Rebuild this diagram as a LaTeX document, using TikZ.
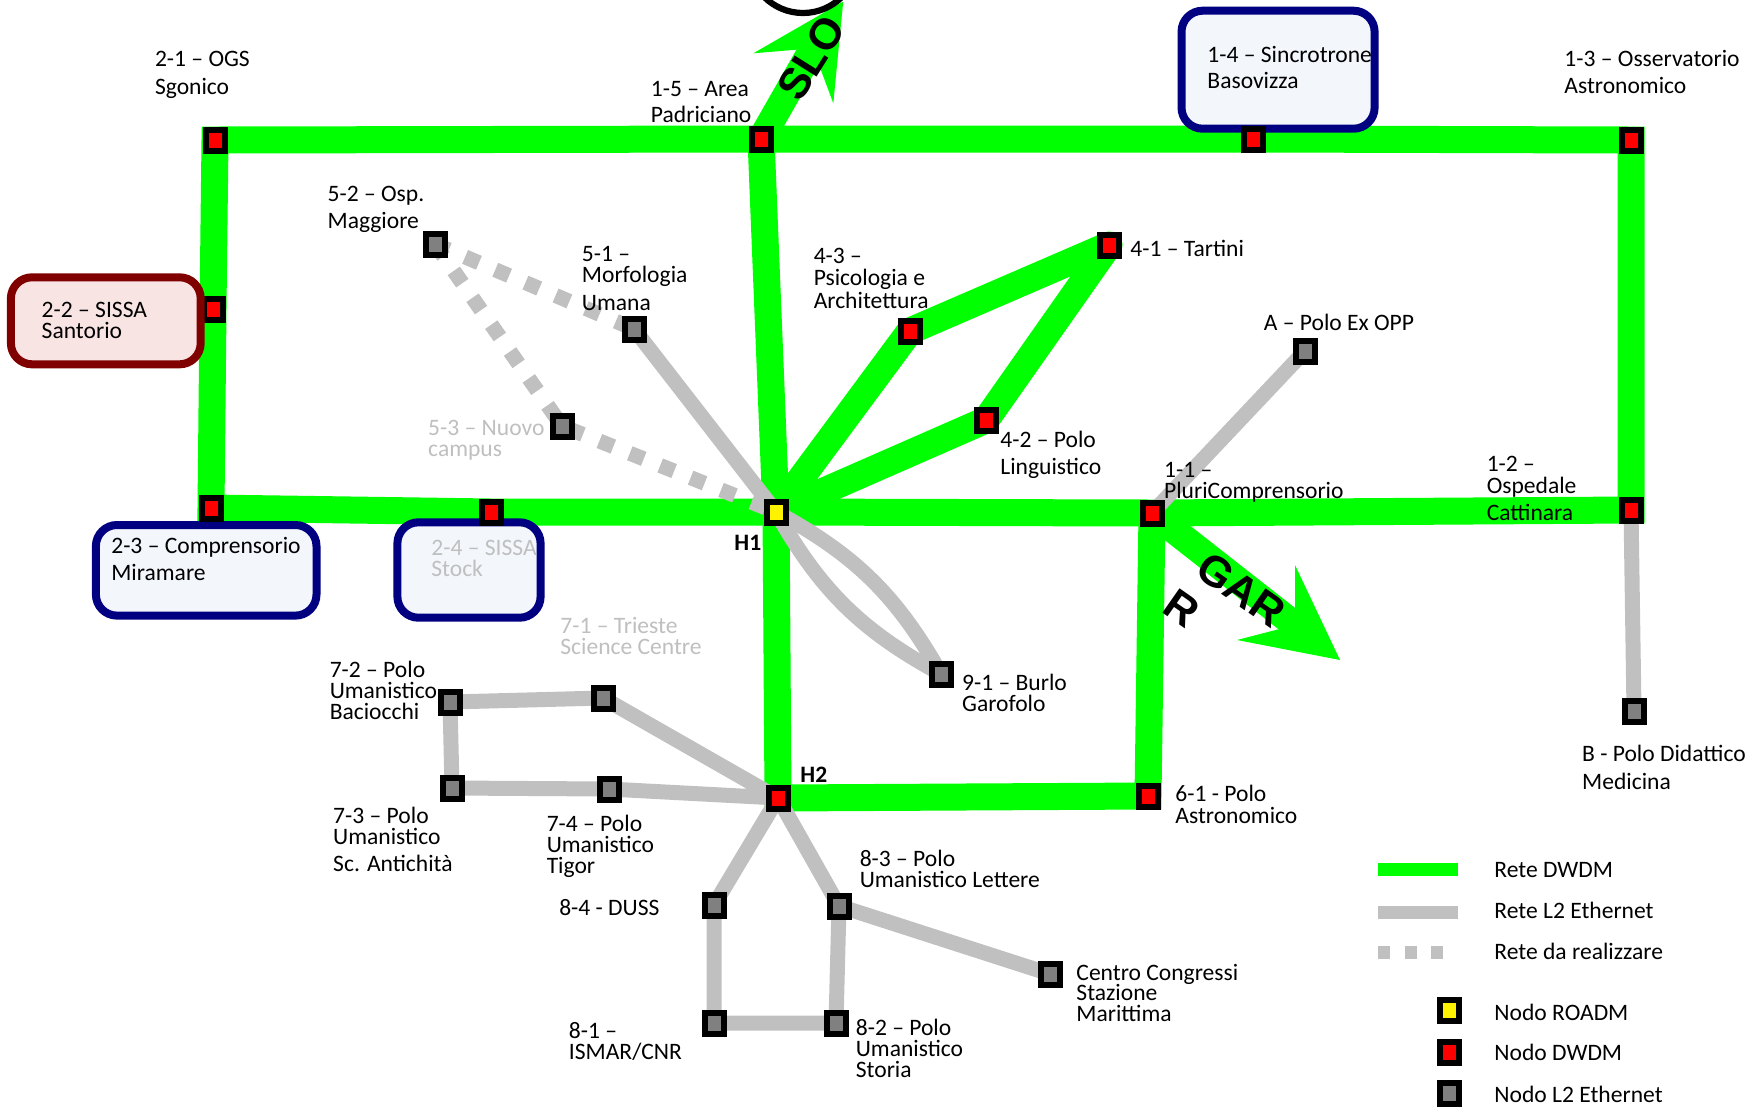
\documentclass[tikz,border=0pt]{standalone}
\usepackage{fontspec}
\setmainfont{Carlito}
\newfontfamily\tagfont{Liberation Sans}

\pgfdeclarelayer{net}
\pgfdeclarelayer{boxes}
\pgfsetlayers{net,boxes,main}

\definecolor{dwdmgreen}{RGB}{0,255,0}
\definecolor{ethgray}{RGB}{192,192,192}
\definecolor{nodegray}{RGB}{128,128,128}
\definecolor{navyedge}{RGB}{0,0,128}
\definecolor{maroonedge}{RGB}{128,0,0}
\definecolor{bluefill}{RGB}{243,247,252}
\definecolor{pinkfill}{RGB}{249,228,228}
\definecolor{fadedtext}{RGB}{191,191,191}

% left-aligned multi-line label whose baseline is the first line
\newcommand\ml[1]{\vtop{\lineskiplimit=-100pt\lineskip=0pt\halign{##\hfil\cr#1\crcr}}}
\newcommand\gap[1]{\noalign{\vskip#1}}

\begin{document}
\begin{tikzpicture}[x=0.45pt, y=-0.45pt,
  dwdmline/.style={draw=dwdmgreen, line width=12.15pt},
  ethline/.style={draw=ethgray, line width=6.75pt},
  plannedline/.style={ethline, dash pattern=on 6.75pt off 8pt},
  sq/.style={rectangle, draw=black, line width=2.7pt, minimum width=8.55pt,
             minimum height=9.45pt, inner sep=0pt, outer sep=0pt},
  roadm/.style={sq, fill=yellow},
  dwdmnode/.style={sq, fill=red},
  ethnode/.style={sq, fill=nodegray},
  lbl/.style={font=\fontsize{10.6pt}{#1}\selectfont, inner sep=0pt, anchor=base west},
  lbl/.default=9.75pt,
  faint/.style={text=fadedtext},
  hub/.style={font=\fontsize{10.6pt}{12pt}\selectfont\bfseries, inner sep=0pt, anchor=base west},
  navybox/.style={draw=navyedge, fill=bluefill, line width=3.6pt, rounded corners=9.5pt},
  maroonbox/.style={draw=maroonedge, fill=pinkfill, line width=3.6pt, rounded corners=9.5pt},
  roadtag/.style={font=\tagfont\bfseries\fontsize{19.5pt}{19.5pt}\selectfont, inner sep=0pt},
]
\useasboundingbox (0,0) rectangle (1757,1106);

% ---------------- nodes ----------------
\node[dwdmnode] (n21) at (215,140) {};
\node[dwdmnode] (n15) at (761,139) {};
\node[dwdmnode] (n14) at (1253,139) {};
\node[dwdmnode] (n13) at (1631,140) {};
\node[dwdmnode] (n22) at (213,309) {};
\node[dwdmnode] (n23) at (211,508) {};
\node[dwdmnode] (n24) at (491,512) {};
\node[roadm]    (h1)  at (776,512) {};
\node[dwdmnode] (n11) at (1152,513) {};
\node[dwdmnode] (n12) at (1631,510) {};
\node[ethnode]  (n52) at (435,244) {};
\node[ethnode]  (n51) at (634,329) {};
\node[ethnode]  (n53) at (562,426) {};
\node[dwdmnode] (n43) at (910,331) {};
\node[dwdmnode] (n41) at (1109,245) {};
\node[dwdmnode] (n42) at (986,420) {};
\node[ethnode]  (na)  at (1305,351) {};
\node[ethnode]  (n91) at (941,674) {};
\node[ethnode]  (nb)  at (1634,711) {};
\node[ethnode]  (n72) at (450,702) {};
\node[ethnode]  (n71) at (603,698) {};
\node[ethnode]  (n73) at (452,788) {};
\node[ethnode]  (n74) at (609,789) {};
\node[dwdmnode] (h2)  at (778,798) {};
\node[dwdmnode] (n61) at (1148,796) {};
\node[ethnode]  (n84) at (714,905) {};
\node[ethnode]  (n83) at (839,906) {};
\node[ethnode]  (n81) at (714,1023) {};
\node[ethnode]  (n82) at (836,1023) {};
\node[ethnode]  (ncc) at (1050,974) {};

% arrow geometry towards SLO and GARR
\coordinate (slonotch) at (812.8,48.3);
\coordinate (slotip)   at (843.2,1.5);
\coordinate (slol)     at (753.3,53.3);
\coordinate (slor)     at (833.3,103.3);
\coordinate (garnotch) at (1295,625);
\coordinate (gartip)   at (1340,660);
\coordinate (garu)     at (1295,565);
\coordinate (garl)     at (1237,640);

% ---------------- links ----------------
\begin{pgfonlayer}{net}
  % DWDM ring and branches
  \draw[dwdmline, line join=miter] (n21.center) -- (n15.center) -- (n14.center) -- (n13.center)
     -- (n12.center) -- (n11.center) -- (h1.center) -- (n24.center) -- (n23.center)
     -- (n22.center) -- cycle;
  \draw[dwdmline, line join=miter] (n15.center) -- (h1.center) -- (h2.center) -- (n61.center) -- (n11.center);
  \draw[dwdmline, line join=round] (h1.center) -- (n43.center) -- (n41.center) -- (n42.center) -- cycle;
  % exits
  \draw[dwdmline] (n15.center) -- (slonotch);
  \fill[dwdmgreen] (slol) -- (slotip) -- (slor) -- (slonotch) -- cycle;
  \draw[dwdmline] (n11.center) -- (garnotch);
  \fill[dwdmgreen] (garu) -- (gartip) -- (garl) -- (garnotch) -- cycle;
  % L2 Ethernet
  \draw[ethline] (n51.center) -- (h1.center);
  \draw[ethline] (na.center) -- (n11.center);
  \draw[ethline] (n12.center) -- (nb.center);
  \draw[ethline] (h1.center) to[bend left=16] (n91.center);
  \draw[ethline] (h1.center) to[bend right=16] (n91.center);
  \draw[ethline, line join=round] (h2.center) -- (n71.center) -- (n72.center) -- (n73.center)
     -- (n74.center) -- (h2.center);
  \draw[ethline, line join=round] (n84.center) -- (h2.center) -- (n83.center) -- (n82.center)
     -- (n81.center) -- cycle;
  \draw[ethline] (n83.center) -- (ncc.center);
  % planned links
  \draw[plannedline] (n52.center) -- (n51.center);
  \draw[plannedline] (n52.center) -- (n53.center) -- (h1.center);
\end{pgfonlayer}

% ---------------- site boxes ----------------
\begin{pgfonlayer}{boxes}
  \draw[navybox] (1181.5,10.7) rectangle (1374.6,128.7);
  \draw[navybox] (95.9,525) rectangle (316.5,615.6);
  \draw[navybox] (397.4,522.3) rectangle (540.6,617.7);
\end{pgfonlayer}
\draw[maroonbox] (10.9,277.3) rectangle (200.7,364.3);

% circle at the top edge
\begin{scope}
  \clip (0,0) rectangle (1757,1106);
  \draw[line width=2.8pt] (803,-42) circle[radius=55];
\end{scope}

% ---------------- labels ----------------
\node[lbl=12.3pt] (l21) at (154.6,66.7) {\ml{2-1 – OGS\cr Sgonico}};
\node[lbl=12pt]   (l15) at (650.5,96) {\ml{1-5 – Area\cr Padriciano}};
\node[lbl=12pt]   (l13) at (1564,66.7) {\ml{1-3 – Osservatorio\cr Astronomico}};
\node[lbl=11.7pt] (l14) at (1207,62.3) {\ml{1-4 – Sincrotrone\cr Basovizza}};
\node[lbl=9.75pt] (l22) at (41.3,317.3) {\ml{2-2 – SISSA\cr Santorio}};
\node[lbl=12.1pt] (l23) at (110.9,553.5) {\ml{2-3 – Comprensorio\cr Miramare}};
\node[lbl=9.75pt, faint] (l24) at (430.9,555) {\ml{2-4 – SISSA\cr Stock}};
\node[lbl=12pt]   (l52) at (327.2,201.7) {\ml{5-2 – Osp.\cr Maggiore}};
\node[lbl=9.6pt]  (l51) at (581.5,261) {\ml{5-1 –\cr Morfologia\cr\gap{3pt}Umana}};
\node[lbl=9.45pt, faint] (l53) at (427.8,435) {\ml{5-3 – Nuovo\cr campus}};
\node[lbl=10.1pt] (l43) at (813.3,263.3) {\ml{4-3 –\cr Psicologia e\cr Architettura}};
\node[lbl]        (l41) at (1130,256.7) {4-1 – Tartini};
\node[lbl=12.4pt] (l42) at (1000,447.3) {\ml{4-2 – Polo\cr Linguistico}};
\node[lbl]        (la)  at (1263.4,330) {A – Polo Ex OPP};
\node[lbl=9.3pt]  (l11) at (1163.7,477.7) {\ml{1-1 –\cr PluriComprensorio}};
\node[lbl=10pt]   (l12) at (1486.3,471) {\ml{1-2 –\cr Ospedale\cr\gap{2.3pt}Cattinara}};
\node[hub]        (lh1) at (734,550) {H1};
\node[hub]        (lh2) at (800,782) {H2};
\node[lbl=9.75pt, faint] (l71) at (559.9,633.3) {\ml{7-1 – Trieste\cr Science Centre}};
\node[lbl=9.45pt] (l91) at (961.7,690.7) {\ml{9-1 – Burlo\cr Garofolo}};
\node[lbl=9.5pt]  (l72) at (329.3,677.3) {\ml{7-2 – Polo\cr Umanistico\cr Baciocchi}};
\node[lbl=12.4pt] (lb)  at (1581.7,761.7) {\ml{B - Polo Didattico\cr Medicina}};
\node[lbl=9.75pt] (l61) at (1175,801.7) {\ml{6-1 - Polo\cr Astronomico}};
\node[lbl=9.75pt] (l73) at (332.8,823.3) {\ml{7-3 – Polo\cr Umanistico\cr\gap{2.25pt}Sc. Antichità}};
\node[lbl=9.4pt]  (l74) at (546.3,831.7) {\ml{7-4 – Polo\cr Umanistico\cr Tigor}};
\node[lbl=9.45pt] (l83) at (859.3,866.7) {\ml{8-3 – Polo\cr Umanistico Lettere}};
\node[lbl]        (l84) at (558.8,915) {8-4 - DUSS};
\node[lbl=9.4pt]  (lcc) at (1076,980) {\ml{Centro Congressi\cr Stazione\cr Marittima}};
\node[lbl=9.75pt] (l81) at (568.5,1038.3) {\ml{8-1 –\cr ISMAR/CNR}};
\node[lbl=9.45pt] (l82) at (855.4,1035.7) {\ml{8-2 – Polo\cr Umanistico\cr Storia}};

% exit tags
\node[roadtag, rotate=58]  (slotext) at (811,58) {SLO};
\node[roadtag, rotate=-35] (gartext) at (1241,590) {GAR};
\node[roadtag, rotate=-35] (gartail) at (1182,608) {R};

% ---------------- legend ----------------
\coordinate (lgga) at (1378,869);
\coordinate (lggb) at (1458,869);
\coordinate (lgea) at (1378,912);
\coordinate (lgeb) at (1458,912);
\coordinate (lgpa) at (1378,952);
\coordinate (lgpb) at (1458,952);
\draw[dwdmline, line width=5.85pt] (lgga) -- (lggb);
\draw[ethline, line width=5.85pt] (lgea) -- (lgeb);
\draw[ethline, line width=5.85pt, dash pattern=on 5.4pt off 6.6pt] (lgpa) -- (lgpb);
\node[roadm]    (lgroadm) at (1449,1010) {};
\node[dwdmnode] (lgdwdm)  at (1449,1052) {};
\node[ethnode]  (lgeth)   at (1449,1093) {};
\node[lbl] (lgt1) at (1494,877.3) {Rete DWDM};
\node[lbl] (lgt2) at (1494,918.3) {Rete L2 Ethernet};
\node[lbl] (lgt3) at (1494,959.3) {Rete da realizzare};
\node[lbl] (lgt4) at (1494,1020) {Nodo ROADM};
\node[lbl] (lgt5) at (1494,1060.7) {Nodo DWDM};
\node[lbl] (lgt6) at (1494,1102.7) {Nodo L2 Ethernet};
\end{tikzpicture}
\end{document}
